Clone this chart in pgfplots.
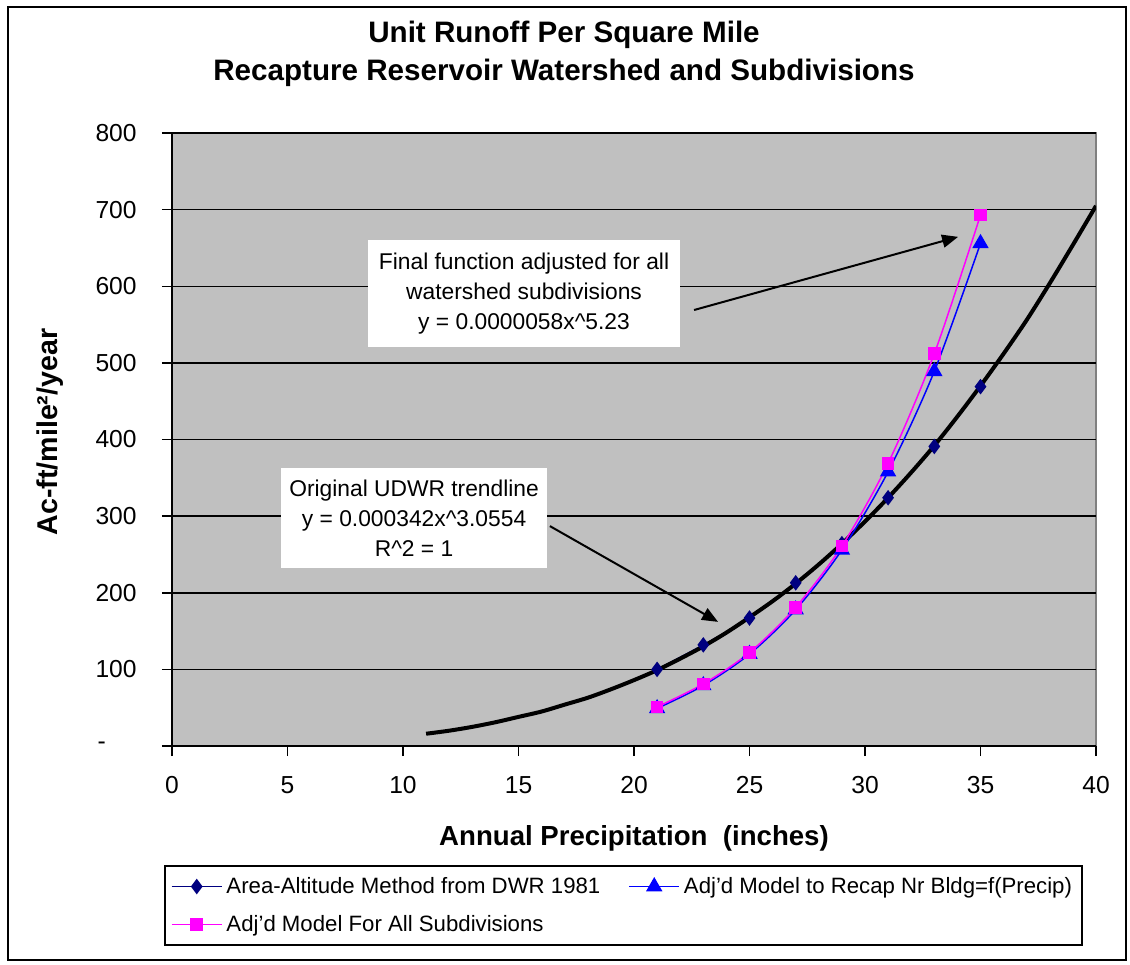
\documentclass[border=0pt]{standalone}
\usepackage{pgfplots}
\pgfplotsset{compat=1.18}
\usepackage{fontspec}
\setmainfont{Liberation Sans}
\usetikzlibrary{arrows.meta}
\definecolor{plotgray}{HTML}{C0C0C0}
\definecolor{bordergray}{HTML}{808080}
\definecolor{navyc}{HTML}{000080}
\definecolor{bluec}{HTML}{0000FF}
\definecolor{pinkc}{HTML}{FF00FF}
\begin{document}
\begin{tikzpicture}
\path (0pt,0pt) rectangle (565pt,-482pt);
\draw[line width=1pt] (4pt,-3.5pt) rectangle (563pt,-480pt);
\node[font=\fontsize{14.8}{17}\selectfont\bfseries] at (282pt,-17.5pt) {Unit Runoff Per Square Mile};
\node[font=\fontsize{14.8}{17}\selectfont\bfseries] at (282pt,-36.5pt) {Recapture Reservoir Watershed and Subdivisions};
\node[font=\fontsize{14.3}{17}\selectfont\bfseries, rotate=90] at (25pt,-216pt) {Ac-ft/mile²/year};
\node[font=\fontsize{13.8}{16}\selectfont\bfseries] at (317pt,-419pt) {Annual Precipitation\ \ (inches)};
\begin{axis}[
  at={(86pt,-373pt)}, anchor=south west,
  scale only axis, width=462pt, height=306.5pt,
  xmin=0, xmax=40, ymin=0, ymax=800,
  xtick={0,5,...,40}, ytick={0,100,...,800},
  yticklabels={{\makebox[19.5pt][l]{-}},100,200,300,400,500,600,700,800},
  axis lines*=left,
  axis line style={black, line width=1pt},
  axis background/.style={fill=plotgray, draw=bordergray, line width=0.75pt},
  ymajorgrids, major grid style={black, line width=0.75pt},
  tick align=outside, major tick length=5pt,
  tick style={black, line width=0.75pt},
  ticklabel style={font=\fontsize{12.3}{14}\selectfont},
  yticklabel style={inner sep=0pt, anchor=east, xshift=-12.5pt},
  xticklabel style={inner sep=0pt, anchor=north, yshift=-10pt},
  /pgf/number format/assume math mode=true,
  legend style={at={(-0.00866,-0.1941)}, anchor=north west, draw=black, line width=1pt, fill=white,
    font=\fontsize{11.1}{13}\selectfont, legend columns=2, inner xsep=3pt, inner ysep=3.5pt,
    nodes={inner sep=2pt}, row sep=5.5pt},
  legend cell align=left,
  legend image code/.code={\draw[mark repeat=2,mark phase=2,#1] plot coordinates {(0pt,0pt) (12.5pt,0pt) (25pt,0pt)};},
]
\addplot[navyc, line width=0.75pt, smooth, tension=0.5, mark=diamond*, mark size=3.3pt, mark options={fill=navyc, solid}]
  coordinates {(21,100)(23,132)(25,167)(27,213)(29,264)(31,324)(33,391)(35,469)};
\addlegendentry{\makebox[199pt][l]{Area-Altitude Method from DWR 1981}}
\addplot[black, line width=2pt, smooth, forget plot]
  coordinates {(11,16)(12,20)(13,25)(14,31)(15,38)(16,45)(17,54)(18,63)(19,74)(20,86)
  (21,99)(22,114)(23,130)(24,148)(25,168)(26,189)(27,212)(28,237)(29,264)(30,293)
  (31,324)(32,357)(33,392)(34,430)(35,470)(36,512)(37,556)(38,604)(39,654)(40,705)};
\addplot[bluec, line width=0.75pt, smooth, tension=0.5, mark=triangle*, mark size=4pt, mark options={fill=bluec, solid}]
  coordinates {(21,49)(23,79)(25,120)(27,178)(29,256)(31,358)(33,489)(35,656)};
\addlegendentry{Adj'd Model to Recap Nr Bldg=f(Precip)}
\addplot[pinkc, line width=0.75pt, smooth, tension=0.5, mark=square*, mark size=2.8pt, mark options={fill=pinkc, solid}]
  coordinates {(21,51)(23,81)(25,122)(27,181)(29,261)(31,369)(33,512)(35,693)};
\addlegendentry{Adj'd Model For All Subdivisions}
\node[fill=white, inner sep=0pt, minimum width=156pt, minimum height=53.5pt, align=center,
  font=\fontsize{11.4}{15}\selectfont] at (axis cs:15.24,590.5)
  {Final function adjusted for all\\watershed subdivisions\\y = 0.0000058x\^{}5.23};
\node[fill=white, inner sep=0pt, minimum width=133pt, minimum height=50pt, align=center,
  font=\fontsize{11.4}{15}\selectfont] at (axis cs:10.48,297.6)
  {Original UDWR trendline\\y = 0.000342x\^{}3.0554\\R\^{}2 = 1};
\draw[line width=1pt, -{Triangle[length=8pt,width=6.5pt]}] (axis cs:22.6,569) -- (axis cs:34.03,664.5);
\draw[line width=1pt, -{Triangle[length=8pt,width=6.5pt]}] (axis cs:16.36,287) -- (axis cs:23.64,162);
\end{axis}
\end{tikzpicture}
\end{document}
